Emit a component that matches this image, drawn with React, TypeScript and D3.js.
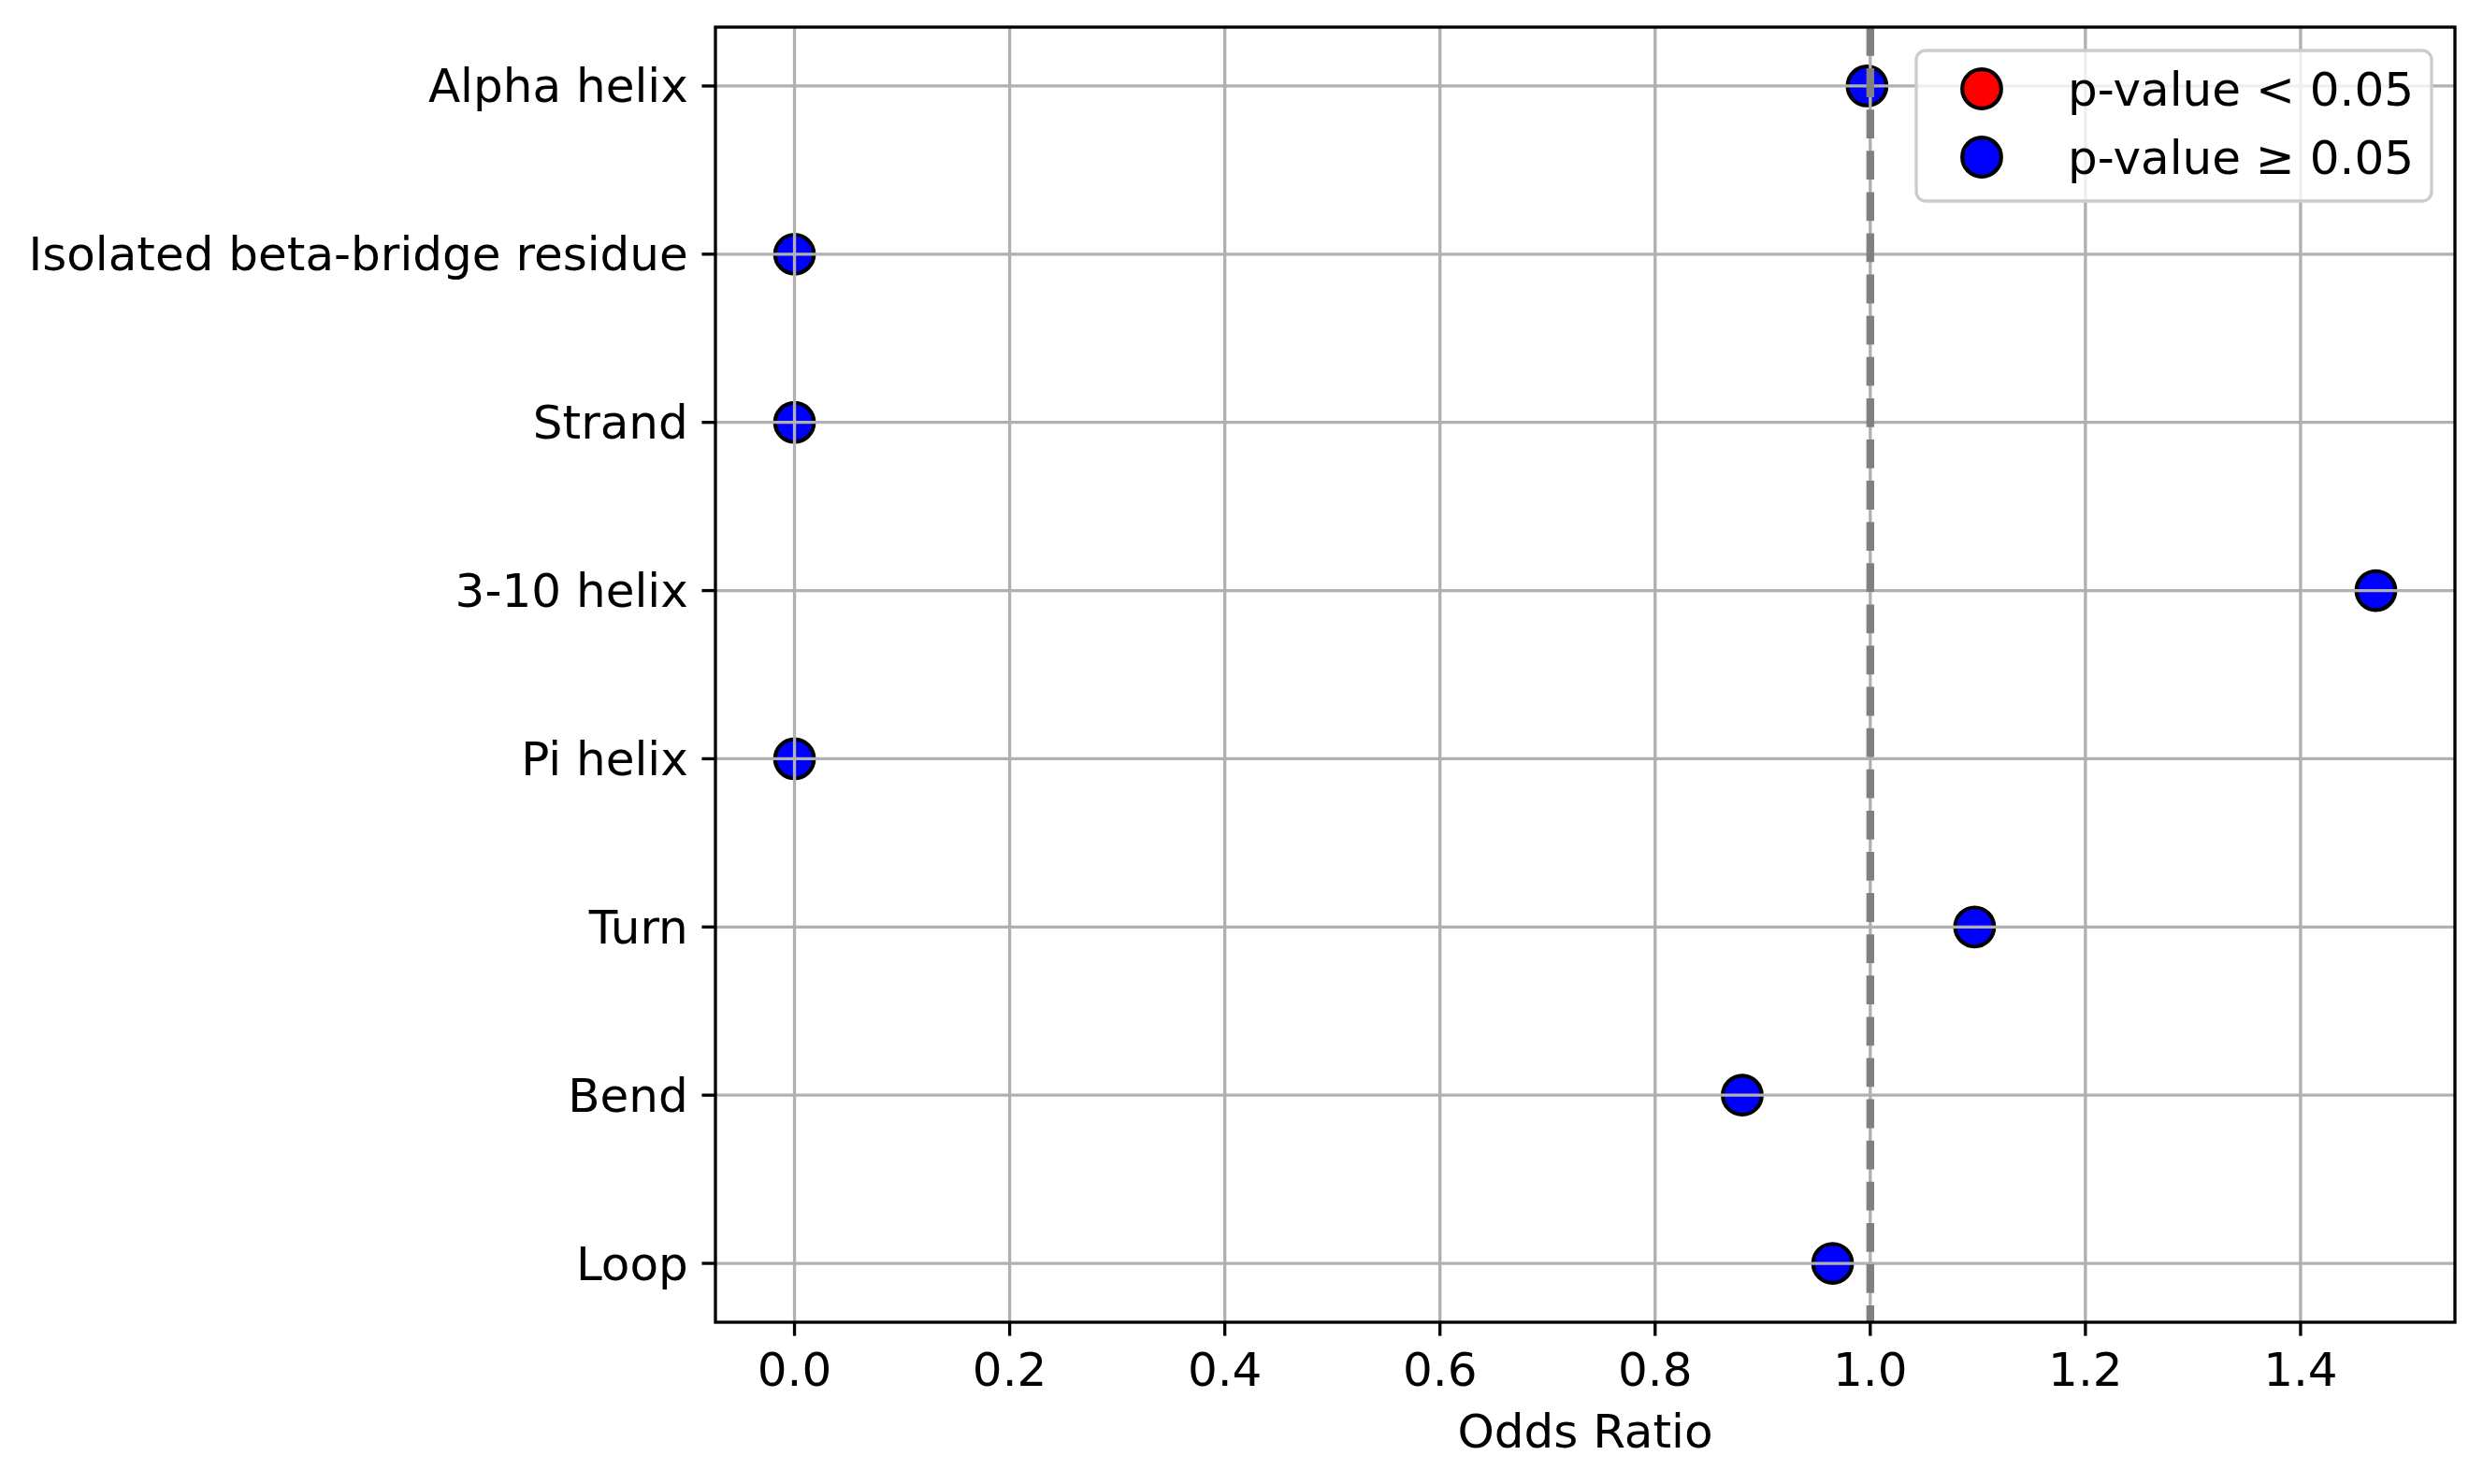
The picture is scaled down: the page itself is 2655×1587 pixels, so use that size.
import React from "react";
import * as d3 from "d3";

const categories = [
  "Alpha helix",
  "Isolated beta-bridge residue",
  "Strand",
  "3-10 helix",
  "Pi helix",
  "Turn",
  "Bend",
  "Loop",
];
const oddsRatios = [0.997, 0, 0, 1.47, 0, 1.097, 0.881, 0.965];
const significant = [false, false, false, false, false, false, false, false];
const xTicks = [0.0, 0.2, 0.4, 0.6, 0.8, 1.0, 1.2, 1.4];
const legendLabels = ["p-value < 0.05", "p-value \u2265 0.05"];
const legendColors = ["red", "blue"];

const W = 2655;
const H = 1587;
const L = 765;
const R = 2625;
const T = 29;
const B = 1414;
const FS = 50;
const FONT = "DejaVu Sans, sans-serif";

export default function App() {
  const dataMax = d3.max(oddsRatios) as number;
  const dataMin = d3.min(oddsRatios) as number;
  const pad = (dataMax - dataMin) * 0.05;
  const x = d3.scaleLinear().domain([dataMin - pad, dataMax + pad]).range([L, R]);
  const y = d3.scalePoint<string>().domain(categories).range([T, B]).padding(0.35);

  const lw = 3.33;
  const tickLen = 14.6;

  const legX = 2049;
  const legY = 54;
  const legW = 551;
  const legH = 161;

  return (
    <svg
      width={W}
      height={H}
      viewBox={`0 0 ${W} ${H}`}
      style={{ position: "absolute", left: 0, top: 0, display: "block", background: "white" }}
      fontFamily={FONT}
    >
      <rect x={0} y={0} width={W} height={H} fill="white" />
      {/* scatter points */}
      {categories.map((c, i) => (
        <circle
          key={c}
          cx={x(oddsRatios[i])}
          cy={y(c)}
          r={20.8}
          fill={significant[i] ? "red" : "blue"}
          stroke="black"
          strokeWidth={4.2}
        />
      ))}
      {/* grid */}
      {xTicks.map((t) => (
        <line key={"gx" + t} x1={x(t)} x2={x(t)} y1={T} y2={B} stroke="#b0b0b0" strokeWidth={lw} />
      ))}
      {categories.map((c) => (
        <line key={"gy" + c} x1={L} x2={R} y1={y(c)} y2={y(c)} stroke="#b0b0b0" strokeWidth={lw} />
      ))}
      {/* reference line */}
      <line
        x1={x(1)}
        x2={x(1)}
        y1={T}
        y2={B}
        stroke="#808080"
        strokeWidth={8.33}
        strokeDasharray="30.8 13.3"
      />
      {/* spines */}
      <rect x={L} y={T} width={R - L} height={B - T} fill="none" stroke="black" strokeWidth={lw} />
      {/* x ticks */}
      {xTicks.map((t) => (
        <g key={"xt" + t}>
          <line x1={x(t)} x2={x(t)} y1={B} y2={B + tickLen} stroke="black" strokeWidth={lw} />
          <text x={x(t)} y={B + 68} textAnchor="middle" fontSize={FS} fill="black">
            {t.toFixed(1)}
          </text>
        </g>
      ))}
      {/* y ticks */}
      {categories.map((c) => (
        <g key={"yt" + c}>
          <line x1={L - tickLen} x2={L} y1={y(c)} y2={y(c)} stroke="black" strokeWidth={lw} />
          <text
            x={L - 2 * tickLen}
            y={y(c)}
            dy="0.35em"
            textAnchor="end"
            fontSize={FS}
            fill="black"
          >
            {c}
          </text>
        </g>
      ))}
      {/* axis label */}
      <text x={(L + R) / 2} y={1548} textAnchor="middle" fontSize={FS} fill="black">
        Odds Ratio
      </text>
      {/* legend */}
      <rect
        x={legX}
        y={legY}
        width={legW}
        height={legH}
        rx={10}
        ry={10}
        fill="white"
        fillOpacity={0.8}
        stroke="#cccccc"
        strokeWidth={lw}
      />
      {legendLabels.map((lab, i) => (
        <g key={lab}>
          <circle
            cx={legX + 70}
            cy={legY + 41 + i * 73}
            r={20.8}
            fill={legendColors[i]}
            stroke="black"
            strokeWidth={4.2}
          />
          <text x={legX + 162} y={legY + 41 + i * 73} dy="0.35em" fontSize={FS} fill="black">
            {lab}
          </text>
        </g>
      ))}
    </svg>
  );
}
